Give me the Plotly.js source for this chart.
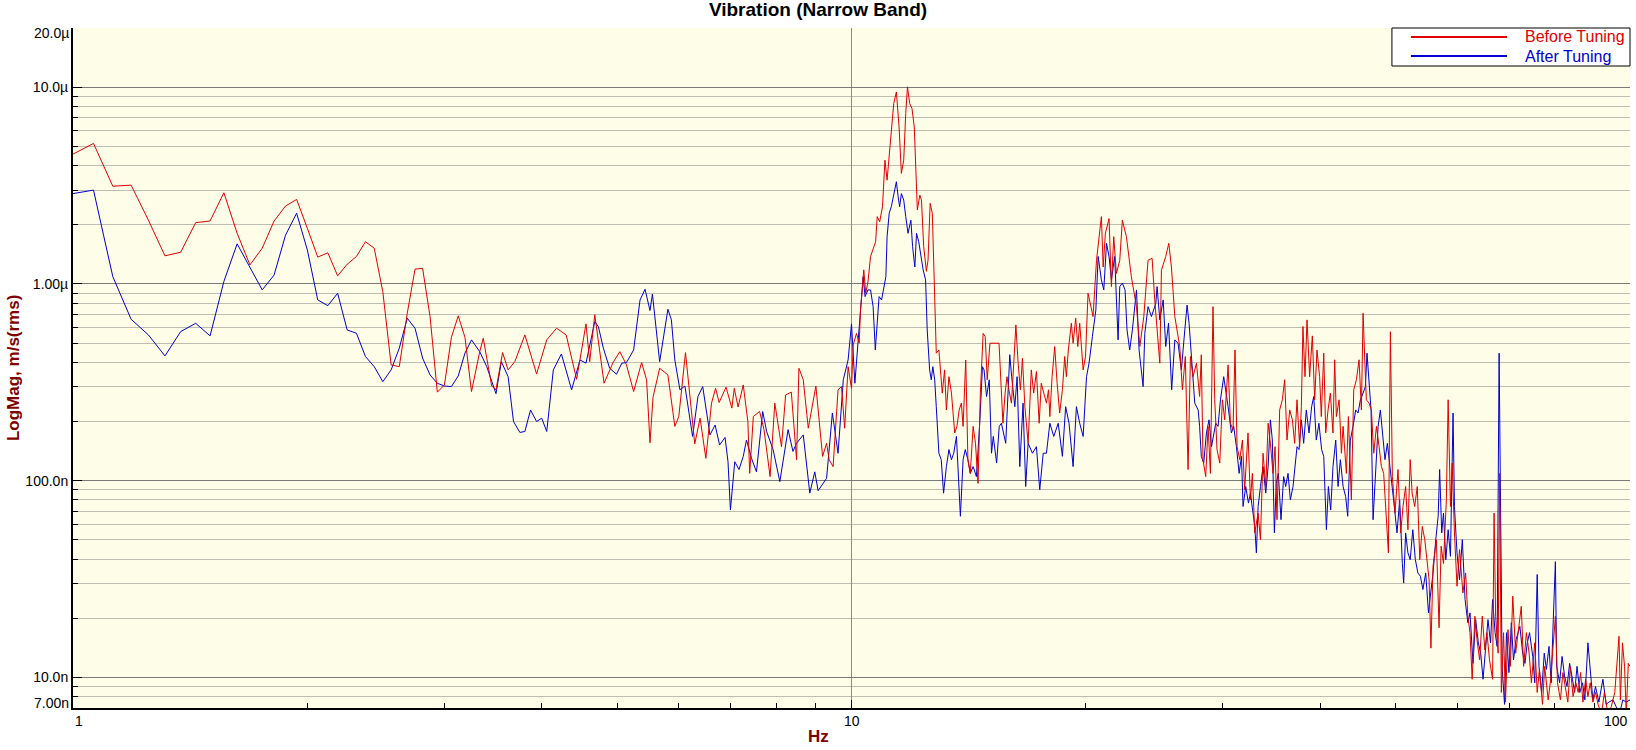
<!DOCTYPE html>
<html><head><meta charset="utf-8">
<script src="https://cdn.plot.ly/plotly-3.0.1.min.js"></script>
<style>html,body{margin:0;padding:0;background:#fff}#chart{width:1636px;height:750px}</style>
</head><body><div id="chart"></div>
<script>
const chartTitle = 'Vibration (Narrow Band)';
const xTitle = 'Hz';
const yTitle = 'LogMag, m/s(rms)';
const seriesNames = ['Before Tuning', 'After Tuning'];
const seriesColors = ['#e00000', '#0000d0'];
const xTickVals = [1, 10, 100];
const xTickText = ['1', '10', '100'];
const xMinorVals = [2,3,4,5,6,7,8,9,20,30,40,50,60,70,80,90,100];
// magnitudes in nm/s
const yTickVals = [10, 100, 1000, 10000];
const yTickText = ['10.0n', '100.0n', '1.00µ', '10.0µ'];
const yEdgeVals = [7, 20000];
const yEdgeText = ['7.00n', '20.0µ'];
const yMinorVals = [8,9,20,30,40,50,60,70,80,90,200,300,400,500,600,700,800,900,2000,3000,4000,5000,6000,7000,8000,9000];

const freqBefore = [
1.0,1.0625,1.125,1.1875,1.25,1.3125,1.375,1.4375,1.5,1.5625,1.625,1.6875,1.75,1.8125,1.875,1.9375,2.0,2.0625,2.125,2.1875,2.25,2.3125,2.375,2.4375,2.5,2.5625,2.625,2.6875,2.75,2.8125,2.875,2.9375,3.0,3.0625,3.125,3.1875,3.25,
3.33,3.365,3.40,3.45,3.494,3.563,3.622,3.694,3.806,3.94,4.06,4.18,4.30,4.435,4.56,4.61,4.68,4.81,4.94,5.04,5.14,5.25,5.375,5.455,5.51,5.56,5.67,5.81,5.93,6.00,6.12,6.20,6.29,6.39,6.50,6.61,6.69,6.76,6.90,7.02,7.07,7.15,7.26,7.36,7.40,7.48,7.62,7.72,7.86,7.97,8.13,8.23,8.37,8.50,8.56,8.67,8.80,9.00,9.18,9.29,9.36,9.47,9.61,9.71,9.80,9.90,10.0,
10.05,10.15,10.23,10.27,10.33,10.37,10.43,10.50,10.58,10.66,10.74,10.79,10.87,10.96,11.04,11.11,11.18,11.25,11.33,11.42,11.51,11.59,11.67,11.74,11.80,11.88,11.96,12.04,12.09,12.15,12.24,12.30,12.38,12.48,12.54,12.62,12.70,12.77,12.85,12.95,13.02,13.08,13.17,13.24,13.34,13.44,13.57,13.66,13.75,13.84,13.91,14.02,14.11,14.21,14.33,14.43,14.54,14.64,14.76,14.85,14.94,15.06,
15.47,15.56,15.65,15.75,15.84,15.93,16.05,16.16,16.26,16.37,16.48,16.58,16.70,16.86,16.94,17.02,17.14,17.28,17.42,17.53,17.66,17.80,17.91,17.98,18.10,18.24,18.37,18.51,18.66,18.79,18.88,18.99,19.16,19.26,19.41,19.53,19.64,19.76,19.84,19.98,20.13,
20.43,20.64,20.94,21.05,21.19,21.42,21.57,21.72,21.89,22.11,22.28,22.55,22.88,23.23,23.46,23.74,24.04,24.33,24.52,24.89,25.01,25.33,25.56,25.76,26.02,26.20,26.40,26.61,26.84,27.06,27.25,27.46,27.74,
28.0,28.14,28.28,28.51,28.71,28.91,29.13,29.28,29.48,29.72,29.95,30.16,30.46,30.67,30.91,31.09,31.28,31.53,31.78,31.99,32.31,32.54,32.73,32.96,33.29,33.52,33.78,34.05,34.29,34.52,34.79,35.00,35.20,35.48,35.76,36.01,36.26,36.55,36.84,37.09,37.35,37.64,37.83,38.01,38.24,38.47,38.77,39.08,39.35,39.62,39.93,40.13,40.42,40.66,40.94,41.22,41.54,41.75,41.96,42.30,42.59,42.80,43.22,43.48,43.86,44.17,44.52,44.87,45.18,45.41,45.67,45.85,46.22,46.54,46.86,47.24,47.61,47.94,48.26,48.64,48.94,49.23,49.52,49.91,50.35,50.75,51.1,51.5,51.85,52.2,52.5,52.9,53.3,53.7,54.1,54.5,54.87,55.2,55.5,55.85,56.4,56.85,57.2,57.6,58.09,58.4,58.8,59.1,59.5,59.95,60.4,61.0,61.5,61.9,62.3,62.7,63.2,63.6,64.1,64.6,65.1,65.5,66.0,66.6,66.9,67.2,67.7,68.0,68.35,68.8,69.2,69.7,70.2,70.7,71.3,71.8,72.5,73.0,73.6,74.2,74.7,75.45,76.0,76.5,77.2,77.7,78.5,79.0,79.6,80.2,80.7,81.4,82.0,82.6,83.2,83.8,84.5,85.2,85.8,86.4,87.0,87.7,88.3,88.9,89.6,90.3,91.0,91.9,92.7,93.7,94.6,95.6,96.2,96.8,97.2,97.8,98.4,98.9,99.5,100
];
const magBefore = [
4570,5180,3140,3180,2110,1390,1450,2050,2090,2910,1810,1250,1520,2090,2490,2690,1920,1370,1440,1100,1260,1380,1640,1520,914,388,380,710,1190,1200,683,282,307,536,689,536,284,
453,530,419,303,290,448,366,403,551,349,520,596,551,328,627,403,697,313,399,453,388,284,399,326,156,266,373,345,189,212,448,268,154,208,130,248,295,250,299,234,295,237,307,200,109,212,225,182,105,248,149,273,282,128,373,326,185,303,133,155,128,118,290,301,185,380,295,
490,561,500,738,970,1180,897,1030,1380,1490,1640,2200,2070,2470,4260,3370,4430,6290,8260,9460,6290,3650,4260,7350,10050,8260,7790,6290,3790,2380,2830,2670,1550,1160,1320,2570,2290,897,445,462,338,279,366,229,338,279,175,189,229,248,189,411,128,109,189,155,97,279,561,540,326,500,
500,290,196,279,338,290,248,396,619,396,290,419,238,155,268,366,279,359,196,313,279,248,290,212,338,481,313,221,290,428,338,462,632,500,670,481,632,462,366,428,897,
683,1320,2200,1220,1810,2150,970,1740,1130,1320,2110,1740,1090,767,481,683,1320,1350,830,396,1175,1380,1610,1220,683,561,481,290,428,114,428,338,396,
268,437,128,105,189,109,767,258,144,123,258,204,388,196,182,462,149,128,161,90,175,80,109,54.3,68.5,50.2,138,93.5,196,155,109,149,63.4,229,258,326,161,229,204,155,258,149,238,608,338,657,338,545,258,462,338,212,445,175,229,279,175,412,212,258,138,189,109,212,80,290,326,412,229,710,380,258,248,229,138,189,149,118,109,68.5,43,572,105,68.5,114,54.3,74,93.5,56.4,128,86.5,74,93.5,39.7,58.6,50.2,38,31.4,14.1,36.8,50.2,17.9,46.5,38,80,258,74,123,54.3,29.1,44.7,26.9,34,20.5,16.9,9.8,20.5,15.6,12.3,20.5,13.8,16.9,12.3,9.8,68.5,20.5,13.3,109,8.4,16.9,7.5,17.5,11.4,25.9,13.3,16.9,23,11.4,16.9,13.3,9.4,15,8.4,11,7.3,11.4,7.7,9.4,13.8,20.5,9.4,7.7,10.6,8.7,7.5,11.4,8.0,9.4,8.4,10.6,7.5,9.8,8.0,9.4,7.5,8.4,7.3,6.5,8.4,6.5,7.1,8.4,12.3,16.2,7.7,15,11.4,6.5,11.8,11.4
];

const freqAfter = [
1.0,1.0625,1.125,1.1875,1.25,1.3125,1.375,1.4375,1.5,1.5625,1.625,1.6875,1.75,1.8125,1.875,1.9375,2.0,2.0625,2.125,2.1875,2.25,2.3125,2.375,2.4375,2.5,2.5625,2.625,2.6875,2.75,2.8125,2.875,2.9375,3.0,3.0625,3.125,3.1875,3.25,
3.33,3.40,3.494,3.55,3.622,3.68,3.75,3.806,3.87,3.94,4.00,4.06,4.14,4.24,4.37,4.48,4.56,4.68,4.73,4.80,4.89,4.99,5.07,5.14,5.25,5.35,5.43,5.51,5.55,5.67,5.81,5.87,5.93,6.02,6.11,6.25,6.35,6.44,6.58,6.68,6.77,6.88,6.94,6.99,7.08,7.17,7.26,7.33,7.44,7.55,7.69,7.78,7.93,8.09,8.29,8.41,8.50,8.67,8.84,8.97,9.06,9.29,9.45,9.61,9.76,9.90,10.0,
10.05,10.10,10.17,10.25,10.30,10.35,10.41,10.50,10.58,10.66,10.73,10.79,10.85,10.93,11.00,11.07,11.11,11.18,11.25,11.33,11.42,11.48,11.53,11.59,11.67,11.74,11.82,11.92,11.98,12.06,12.12,12.20,12.26,12.36,12.45,12.51,12.60,12.66,12.72,12.79,12.85,12.95,13.04,13.13,13.24,13.34,13.44,13.53,13.64,13.75,13.80,13.91,14.00,14.11,14.21,14.33,14.47,14.62,14.73,14.80,14.91,15.03,15.13,15.21,15.36,15.48,
15.58,15.78,15.97,16.06,16.21,16.32,16.45,16.61,16.74,16.86,17.08,17.28,17.45,17.63,17.80,17.98,18.19,18.43,18.66,18.84,19.03,19.26,19.45,19.64,19.84,20.04,20.19,20.39,20.60,20.74,20.94,21.09,21.26,21.42,21.57,21.78,22.00,22.11,22.28,22.46,22.59,22.77,22.95,23.23,23.41,23.69,23.81,24.04,24.28,24.60,24.69,24.89,25.14,25.33,25.54,25.78,26.02,26.27,26.53,26.80,26.98,27.14,27.35,27.60,27.88,
28.0,28.14,28.34,28.57,28.79,29.0,29.19,29.37,29.57,29.78,30.07,30.25,30.46,30.76,30.97,31.22,31.47,31.69,31.84,32.09,32.35,32.54,32.73,32.96,33.12,33.29,33.52,33.78,34.05,34.29,34.52,34.72,34.93,35.13,35.34,35.62,35.9,36.12,36.37,36.62,36.91,37.16,37.35,37.57,37.83,38.09,38.39,38.7,39.0,39.24,39.54,39.85,40.17,40.42,40.74,40.98,41.26,41.54,41.88,42.17,42.46,42.8,43.13,43.39,43.73,44.08,44.43,44.74,45.05,45.41,45.72,45.94,46.22,46.49,46.77,47.14,47.47,47.79,48.17,48.45,48.79,49.13,49.52,49.86,50.2,50.6,51.0,51.2,51.5,51.85,52.2,52.6,53.0,53.4,53.8,54.2,54.65,55.1,55.4,55.85,56.3,56.7,56.95,57.3,57.6,58.0,58.4,58.8,59.25,59.5,59.95,60.4,60.9,61.4,61.9,62.3,62.85,63.35,63.85,64.3,64.75,65.25,65.7,66.2,66.6,67.1,67.5,67.9,68.1,68.5,69.0,69.4,69.9,70.4,70.85,71.4,72.2,72.8,73.3,73.8,74.3,75.0,75.45,76.0,76.4,77.0,77.6,78.1,78.7,79.2,79.7,80.2,80.5,81.2,81.8,82.4,83.0,83.65,84.35,84.9,85.5,86.2,86.9,87.5,88.3,88.9,89.6,90.3,91.2,92.3,93.2,93.95,95.1,96.0,97.0,97.9,98.9,100
];
const magAfter = [
2880,3000,1090,662,551,431,573,631,545,1030,1600,1220,933,1110,1770,2290,1490,830,776,897,584,562,428,380,319,366,472,670,596,420,345,313,303,301,341,445,520,
453,380,277,403,338,200,176,178,229,200,208,178,366,441,290,411,396,644,607,472,373,348,396,399,462,829,940,733,889,403,744,657,411,290,303,168,268,301,171,192,152,166,125,71,125,114,133,161,130,111,225,178,144,99,182,141,155,171,86.5,111,89,103,221,138,326,411,627,
411,313,445,683,933,1090,863,933,933,767,462,607,863,830,933,1090,1740,2290,2470,2880,3310,2770,2470,2880,2670,2200,1810,2110,1550,1220,1810,1640,1430,1180,1050,584,366,326,380,326,238,138,128,86.5,118,144,128,138,168,80,66,128,144,128,109,118,105,204,380,366,268,326,138,168,123,189,
196,155,437,338,238,338,118,248,93.5,155,138,149,90,138,138,196,168,196,133,238,196,118,238,196,168,338,396,540,738,1380,1050,933,1610,1380,1050,1380,520,970,1010,933,584,462,584,933,462,301,561,767,683,798,970,657,830,481,632,290,520,500,366,584,782,632,428,248,229,
189,133,123,175,204,149,168,196,189,258,338,279,238,175,189,149,109,133,74,93.5,77,86.5,74,58.6,43,74,93.5,118,86.5,118,204,161,54.3,97,109,63.4,105,93.5,109,80,93.5,118,149,144,204,155,229,175,238,268,161,196,144,133,56.4,93.5,71,118,161,93.5,128,93.5,83,66,161,189,229,221,258,279,301,445,313,229,63.4,109,189,229,161,128,155,123,93.5,71,54.3,80,38,30.2,54.3,43,39.7,56.4,39.7,34,32.7,28,34,21.3,25.9,34,50.2,66,114,54.3,68.5,39.7,56.4,41.3,221,74,43,31.4,50.2,24.9,19,21.3,11.8,19.7,15,13.3,9.8,13.8,19.7,15,24.9,16.9,14.4,445,109,11.4,7.3,16.9,10.6,19,12.3,15.6,18.2,13.3,11.8,15,16.9,12.8,9.4,33.4,11.4,8.4,13.3,11,14.4,9.4,19.7,38.8,11.4,9.4,12.8,10.2,9.0,11.8,9.8,8.4,11.4,8.4,9.4,7.7,15,10.6,7.7,9.0,7.5,9.8,7.3,7.5,7.7,7.1,6.6,7.7,7.5,7.7
];

const FONT = 'Liberation Sans, Arial, Helvetica, sans-serif';

const traces = [
  {x: freqAfter, y: magAfter, name: seriesNames[1], type: 'scatter', mode: 'lines',
   line: {color: seriesColors[1], width: 1}, hoverinfo: 'x+y'},
  {x: freqBefore, y: magBefore, name: seriesNames[0], type: 'scatter', mode: 'lines',
   line: {color: seriesColors[0], width: 1}, hoverinfo: 'x+y'}
];

// paper-coordinate positions for the hand-built legend box (layout, not data)
const L = {x0: 0.8471, x1: 1.0, y0: 0.9441, y1: 1.0, lx0: 0.8593, lx1: 0.9210, tx: 0.9313, rows: [0.9868, 0.9588]};

const annotations = [];
xTickVals.forEach((v, i) => {
  annotations.push({x: Math.log10(v), xref: 'x', y: 0, yref: 'paper', yanchor: 'top', yshift: -3,
    xanchor: i === 0 ? 'left' : (i === xTickVals.length - 1 ? 'right' : 'center'),
    text: xTickText[i], showarrow: false, font: {family: FONT, size: 14, color: '#000'}});
});
yEdgeVals.forEach((v, i) => {
  annotations.push({x: 0, xref: 'paper', y: Math.log10(v), yref: 'y', xanchor: 'right', yanchor: 'middle',
    xshift: -2, yshift: i === 0 ? 5 : -5, text: yEdgeText[i], showarrow: false,
    font: {family: FONT, size: 14, color: '#000'}});
});
annotations.push({x: 0.479, xref: 'paper', y: -0.0426, yref: 'paper', xanchor: 'center', yanchor: 'middle',
  text: '<b>' + xTitle + '</b>', showarrow: false, font: {family: FONT, size: 17, color: '#800000'}});
annotations.push({x: -0.0385, xref: 'paper', y: 0.5, yref: 'paper', xanchor: 'center', yanchor: 'middle',
  textangle: -90, text: '<b>' + yTitle + '</b>', showarrow: false, font: {family: FONT, size: 17, color: '#800000'}});
seriesNames.forEach((n, i) => {
  annotations.push({x: L.tx, xref: 'paper', y: L.rows[i], yref: 'paper', xanchor: 'left', yanchor: 'middle',
    text: n, showarrow: false, font: {family: FONT, size: 16, color: seriesColors[i]}});
});

const shapes = [
  {type: 'rect', xref: 'paper', yref: 'paper', x0: L.x0, x1: L.x1, y0: L.y0, y1: L.y1,
   line: {color: '#000', width: 1}, fillcolor: '#ffffff', layer: 'above'}
];
seriesNames.forEach((n, i) => {
  shapes.push({type: 'line', xref: 'paper', yref: 'paper', x0: L.lx0, x1: L.lx1, y0: L.rows[i], y1: L.rows[i],
    line: {color: seriesColors[i], width: 2}, layer: 'above'});
});

const layout = {
  width: 1636, height: 750,
  margin: {l: 73, r: 6, t: 28, b: 42},
  paper_bgcolor: '#ffffff',
  plot_bgcolor: '#fdfde8',
  font: {family: FONT, size: 14, color: '#000'},
  showlegend: false,
  title: {text: '<b>' + chartTitle + '</b>', font: {family: FONT, size: 19, color: '#000'},
          x: 0.5, xref: 'container', xanchor: 'center', y: 0.987, yref: 'container', yanchor: 'middle'},
  xaxis: {
    type: 'log', range: [0, 2], tickmode: 'array', tickvals: [10], showticklabels: false,
    ticks: 'inside', ticklen: 8, tickcolor: '#000', tickwidth: 1,
    showgrid: true, gridcolor: '#8c8c8c', gridwidth: 1, zeroline: false,
    showline: true, linecolor: '#000', linewidth: 2, mirror: false,
    minor: {tickmode: 'array', tickvals: xMinorVals, ticks: 'inside', ticklen: 5, tickcolor: '#000', showgrid: false}
  },
  yaxis: {
    type: 'log', range: [Math.log10(yEdgeVals[0]), Math.log10(yEdgeVals[1])],
    tickmode: 'array', tickvals: yTickVals, ticktext: yTickText,
    ticks: 'inside', ticklen: 9, tickcolor: '#000', tickwidth: 1,
    tickfont: {family: FONT, size: 14, color: '#000'},
    showgrid: true, gridcolor: '#7a7a7a', gridwidth: 1, zeroline: false,
    showline: true, linecolor: '#000', linewidth: 2, mirror: false,
    minor: {tickmode: 'array', tickvals: yMinorVals, ticks: 'inside', ticklen: 5, tickcolor: '#000',
            showgrid: true, gridcolor: '#bdbdb2', gridwidth: 1}
  },
  annotations: annotations,
  shapes: shapes
};

Plotly.newPlot('chart', traces, layout, {displayModeBar: false, staticPlot: true});
</script>
</body></html>
